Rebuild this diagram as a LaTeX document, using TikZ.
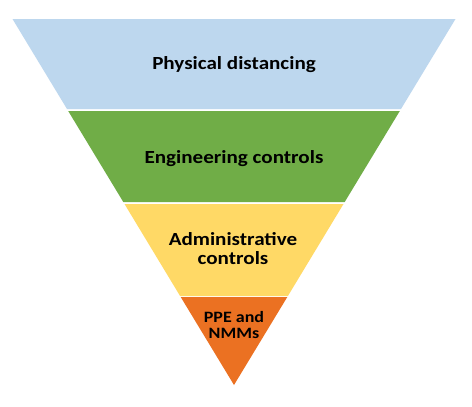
\documentclass[tikz,border=0pt]{standalone}
\usepackage{fontspec}
\setmainfont{Carlito}[FakeStretch=1.14]
\definecolor{cblue}{HTML}{BDD7EE}
\definecolor{cgreen}{HTML}{70AD47}
\definecolor{cyellow}{HTML}{FFD966}
\definecolor{corange}{HTML}{EB7122}
\begin{document}
\begin{tikzpicture}[x=1pt,y=-1pt,
  lbl/.style={font=\bfseries\fontsize{18.5}{19}\selectfont, text=black, align=center, inner sep=0pt},
  slbl/.style={font=\bfseries\fontsize{15.8}{15.5}\selectfont, text=black, align=center, inner sep=0pt}]
\useasboundingbox[fill=white] (0,0) rectangle (472,407);
\fill[cblue] (12.5,19) -- (455.5,19) -- (401,109) -- (67,109) -- cycle;
\fill[cgreen] (68.2,111) -- (399.8,111) -- (344.7,202) -- (123.3,202) -- cycle;
\fill[cyellow] (124.5,204) -- (343.5,204) -- (287.9,296) -- (180.1,296) -- cycle;
\fill[corange] (180.7,297) -- (287.3,297) -- (234,385) -- cycle;
\node[lbl, anchor=base] (t1) at (234,69) {Physical distancing};
\node[lbl, anchor=base] (t2) at (234,163) {Engineering controls};
\node[lbl] (t3) at (233,249) {Administrative\\controls};
\node[slbl] (t4) at (234,325) {PPE and\\NMMs};
\end{tikzpicture}
\end{document}
